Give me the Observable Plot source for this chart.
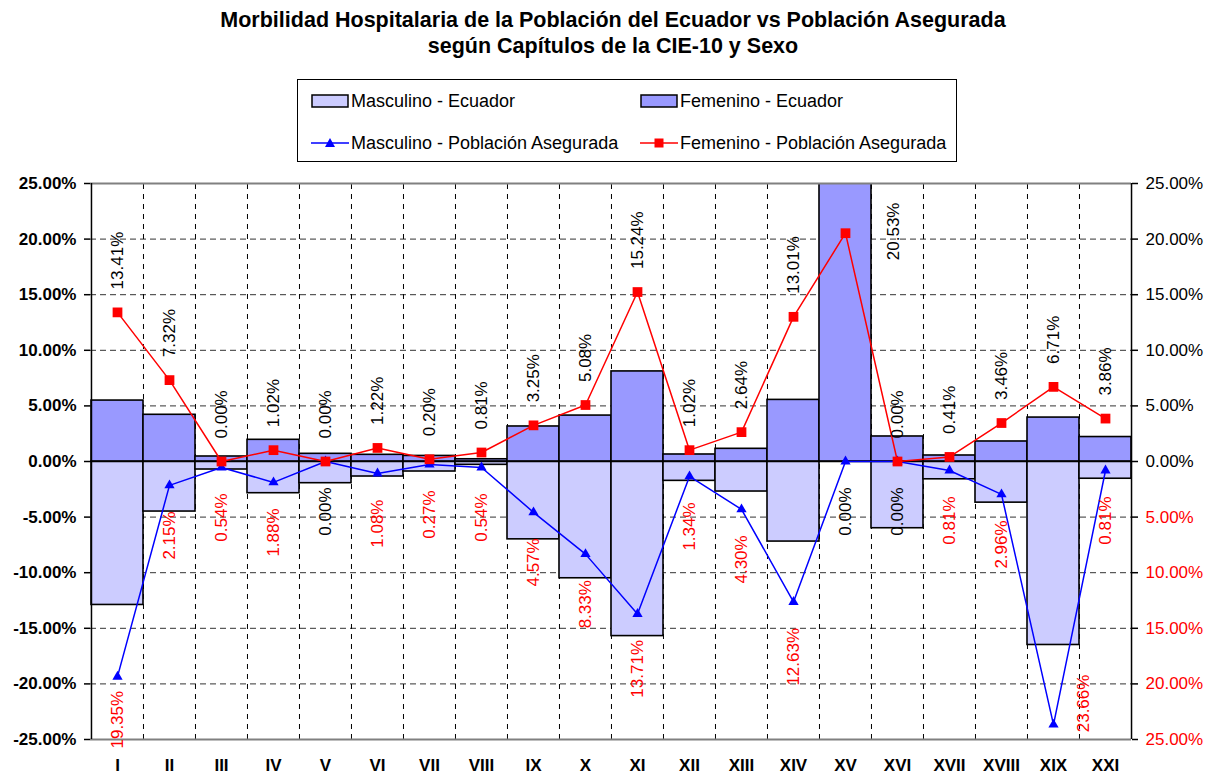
<!DOCTYPE html>
<html>
<head>
<meta charset="utf-8">
<script src="https://cdn.jsdelivr.net/npm/d3@7"></script>
<script src="https://cdn.jsdelivr.net/npm/@observablehq/plot@0.6"></script>
<style>
  body { margin: 0; background: #fff; font-family: "Liberation Sans", Arial, sans-serif; }
  #wrap { position: relative; width: 1218px; height: 776px; overflow: hidden; }
  #title { position: absolute; left: 0; top: 7px; width: 1226px; text-align: center; font-weight: bold; font-size: 21.5px; line-height: 26px; color: #000; }
  #legend { position: absolute; left: 297px; top: 79px; width: 658px; height: 81px; border: 1px solid #000; box-sizing: content-box; }
  .item { position: absolute; display: flex; align-items: center; font-size: 18px; line-height: 20px; white-space: nowrap; }
  .item svg { margin-right: 2px; }
  #chart { position: absolute; left: 0; top: 170px; }
</style>
</head>
<body>
<div id="wrap">
  <div id="title">Morbilidad Hospitalaria de la Población del Ecuador vs Población Asegurada<br>según Capítulos de la CIE-10 y Sexo</div>
  <div id="legend"></div>
  <div id="chart"></div>
</div>
<script>
// ---- Data (percentages) ----
const categories = ["I","II","III","IV","V","VI","VII","VIII","IX","X","XI","XII","XIII","XIV","XV","XVI","XVII","XVIII","XIX","XXI"];
const masculinoEcuador = [-12.9, -4.5, -0.72, -2.85, -1.95, -1.35, -0.9, -0.3, -7.0, -10.5, -15.7, -1.74, -2.7, -7.2, 0, -6.0, -1.6, -3.7, -16.5, -1.55];
const femeninoEcuador = [5.48, 4.2, 0.45, 1.95, 0.69, 0.6, 0.5, 0.2, 3.15, 4.13, 8.1, 0.63, 1.14, 5.54, 27, 2.25, 0.54, 1.8, 3.95, 2.2];
const masculinoAsegurada = [-19.35, -2.15, -0.54, -1.88, 0, -1.08, -0.27, -0.54, -4.57, -8.33, -13.71, -1.34, -4.30, -12.63, 0, 0, -0.81, -2.96, -23.66, -0.81];
const femeninoAsegurada = [13.41, 7.32, 0, 1.02, 0, 1.22, 0.20, 0.81, 3.25, 5.08, 15.24, 1.02, 2.64, 13.01, 20.53, 0, 0.41, 3.46, 6.71, 3.86];
const yTicks = [-25, -20, -15, -10, -5, 0, 5, 10, 15, 20, 25];
const seriesNames = ["Masculino - Ecuador", "Femenino - Ecuador", "Masculino - Población Asegurada", "Femenino - Población Asegurada"];

// ---- Styles ----
const LIGHT = "#CCCCFF", DARK = "#9999FF", BLUE = "#0000FF", RED = "#FF0000";
const W = 1218, H = 606, mL = 90, mR = 87, mT = 13, mB = 37;
const bw = (W - mL - mR) / categories.length;
const ppu = (H - mT - mB) / 50; // pixels per percentage point
const FONT = "17px 'Liberation Sans'";

const rows = categories.map((c, i) => ({
  cat: c, mE: masculinoEcuador[i], fE: femeninoEcuador[i], mA: masculinoAsegurada[i], fA: femeninoAsegurada[i]
}));

// text length measurement
const ctx = document.createElement("canvas").getContext("2d");
ctx.font = FONT;
const len = s => ctx.measureText(s).width;
const fmt = v => Math.abs(v).toFixed(2) + "%";

// top labels (Femenino - Población Asegurada)
const topNormal = [], topShift = [];
for (const r of rows) {
  const t = fmt(r.fA), L = len(t) / ppu;
  const y = r.fA + 23 / ppu;
  if (y + L > 25) topShift.push({cat: r.cat, y: r.fA - 27 / ppu, text: t});
  else topNormal.push({cat: r.cat, y, text: t});
}
// bottom labels (Masculino - Población Asegurada)
const botNormal = [], botShift = [];
const limit = -25 - 9 / ppu;
for (const r of rows) {
  const t = fmt(r.mA), L = len(t) / ppu;
  let y = r.mA - 26 / ppu;
  const color = r.mA === 0 ? "#000000" : RED;
  if (y - L < limit) y = limit + L;
  if (y > r.mA) botShift.push({cat: r.cat, y: r.mA + 50 / ppu, text: t, color});
  else botNormal.push({cat: r.cat, y, text: t, color});
}

const labStyle = {x: "cat", y: "y", text: "text", rotate: -90, fontSize: 17, lineAnchor: "middle"};

const chart = Plot.plot({
  width: W, height: H,
  marginLeft: mL, marginRight: mR, marginTop: mT, marginBottom: mB,
  style: {fontFamily: "'Liberation Sans', Arial, sans-serif", background: "#fff", overflow: "visible"},
  x: {domain: categories, padding: 0, axis: null},
  y: {domain: [-25, 25], axis: null},
  marks: [
    // grid
    Plot.ruleY(yTicks.filter(d => d !== 0 && Math.abs(d) !== 25), {stroke: "#333", strokeWidth: 1, strokeDasharray: "6,4"}),
    Plot.ruleX(categories.slice(1), {dx: -bw / 2, y1: -25, y2: 25, stroke: "#000", strokeWidth: 1, strokeDasharray: "5,5"}),
    // bars
    Plot.barY(rows, {x: "cat", y: "mE", fill: LIGHT, stroke: "#000", strokeWidth: 1.6}),
    Plot.barY(rows, {x: "cat", y: "fE", fill: DARK, stroke: "#000", strokeWidth: 1.6, clip: true}),
    // zero line and frame
    Plot.ruleY([0], {stroke: "#000", strokeWidth: 1.5}),
    Plot.ruleY([25, -25], {stroke: "#808080", strokeWidth: 2}),
    Plot.ruleX([categories[0]], {dx: -bw / 2, y1: -25, y2: 25, stroke: "#000", strokeWidth: 1.5}),
    Plot.ruleX([categories[categories.length - 1]], {dx: bw / 2, y1: -25, y2: 25, stroke: "#000", strokeWidth: 1.5}),
    // lines
    Plot.line(rows, {x: "cat", y: "mA", stroke: BLUE, strokeWidth: 1.5}),
    Plot.dot(rows, {x: "cat", y: "mA", symbol: "triangle", r: 3.8, fill: BLUE, stroke: "none"}),
    Plot.line(rows, {x: "cat", y: "fA", stroke: RED, strokeWidth: 1.5}),
    Plot.dot(rows, {x: "cat", y: "fA", symbol: "square", r: 5.5, fill: RED, stroke: "none"}),
    // data labels
    Plot.text(topNormal, {...labStyle, textAnchor: "start", fill: "#000"}),
    Plot.text(topShift, {...labStyle, textAnchor: "start", fill: "#000", dx: 48}),
    Plot.text(botNormal, {...labStyle, textAnchor: "end", fill: "color"}),
    Plot.text(botShift, {...labStyle, textAnchor: "end", fill: "color", dx: 30}),
    // left axis
    Plot.axisY({ticks: yTicks, anchor: "left", tickSize: 6, tickPadding: 8, strokeWidth: 1.5,
      tickFormat: d => d.toFixed(2) + "%", fontSize: 17, fontWeight: "bold", label: null}),
    // right axis
    Plot.axisY({ticks: yTicks, anchor: "right", tickSize: 6, strokeWidth: 1.5, tickFormat: () => "", label: null}),
    Plot.text(yTicks, {y: d => d, frameAnchor: "right", dx: 14, textAnchor: "start", fontSize: 17,
      text: d => fmt(d), fill: d => d < 0 ? RED : "#000000"}),
    // x axis
    Plot.axisX({tickSize: 0, tickPadding: 19, fontSize: 17, fontWeight: "bold", label: null})
  ]
});
document.getElementById("chart").appendChild(chart);

// ---- Legend ----
const legend = document.getElementById("legend");
function swatchBar(fill) {
  return `<svg width="38" height="14"><rect x="1" y="1" width="36" height="12" fill="${fill}" stroke="#000" stroke-width="1.5"/></svg>`;
}
function swatchLine(color, sym) {
  const m = sym === "tri"
    ? `<path d="M19,2 L24,11 L14,11 Z" fill="${color}"/>`
    : `<rect x="14.5" y="2.5" width="9" height="9" fill="${color}"/>`;
  return `<svg width="38" height="14"><line x1="0" y1="7" x2="38" y2="7" stroke="${color}" stroke-width="1.5"/>${m}</svg>`;
}
const items = [
  {name: seriesNames[0], sw: swatchBar(LIGHT), left: 13, top: 11},
  {name: seriesNames[1], sw: swatchBar(DARK), left: 342, top: 11},
  {name: seriesNames[2], sw: swatchLine(BLUE, "tri"), left: 13, top: 53},
  {name: seriesNames[3], sw: swatchLine(RED, "sq"), left: 342, top: 53}
];
for (const it of items) {
  const d = document.createElement("div");
  d.className = "item";
  d.style.left = it.left + "px";
  d.style.top = it.top + "px";
  d.innerHTML = it.sw + `<span>${it.name}</span>`;
  legend.appendChild(d);
}
</script>
</body>
</html>
